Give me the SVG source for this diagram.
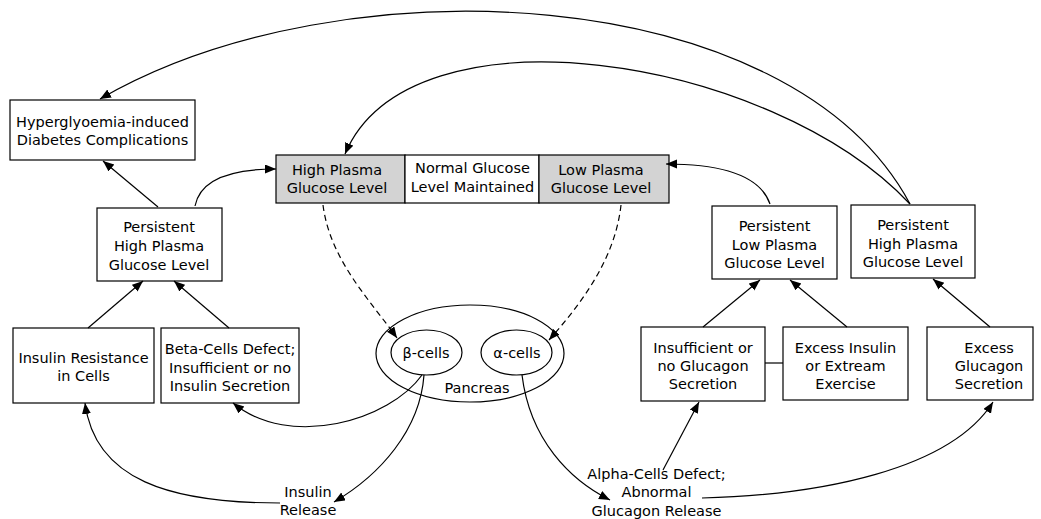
<svg xmlns="http://www.w3.org/2000/svg" width="1041" height="519" viewBox="0 0 1041 519">
<defs>
<marker id="ah" markerUnits="userSpaceOnUse" markerWidth="12" markerHeight="10" refX="11" refY="4.5" orient="auto">
<path d="M0,0 L11,4.5 L0,9 Z" fill="#000"/>
</marker>
<style>
rect{fill:#fff;stroke:#000;stroke-width:1.2}
rect.g{fill:#d3d3d3}
ellipse{fill:#fff;stroke:#000;stroke-width:1.2}
text{font-family:"DejaVu Sans",sans-serif;font-size:14.5px;fill:#000;text-anchor:middle}
.c path,.c line{fill:none;stroke:#000;stroke-width:1.2;marker-end:url(#ah)}
.c .d{stroke-dasharray:6,4}
.c .n{marker-end:none}
</style>
</defs>
<rect x="0" y="0" width="1041" height="519" style="fill:#fff;stroke:none"/>
<g id="complications"><rect x="10" y="100" width="185" height="60"/><text x="102.5" y="127">Hyperglyoemia-induced</text><text x="102.5" y="144.5">Diabetes Complications</text></g>
<g id="high-plasma"><rect class="g" x="276" y="155" width="129" height="48"/><text x="337" y="175">High Plasma</text><text x="337" y="193">Glucose Level</text></g>
<g id="normal"><rect x="405" y="155" width="134" height="48"/><text x="472.5" y="173">Normal Glucose</text><text x="472.5" y="191.5">Level Maintained</text></g>
<g id="low-plasma"><rect class="g" x="539" y="155" width="130" height="48"/><text x="601" y="175">Low Plasma</text><text x="601" y="193">Glucose Level</text></g>
<g id="persist-high-left"><rect x="97" y="208" width="125" height="73"/><text x="159" y="232">Persistent</text><text x="159" y="251">High Plasma</text><text x="159" y="270">Glucose Level</text></g>
<g id="persist-low"><rect x="712" y="206" width="125" height="73"/><text x="774.5" y="231">Persistent</text><text x="774.5" y="250">Low Plasma</text><text x="774.5" y="268">Glucose Level</text></g>
<g id="persist-high-right"><rect x="851" y="205" width="124" height="73"/><text x="913" y="230">Persistent</text><text x="913" y="249">High Plasma</text><text x="913" y="267">Glucose Level</text></g>
<g id="insulin-resistance"><rect x="13" y="328" width="141" height="75"/><text x="83.5" y="363">Insulin Resistance</text><text x="83.5" y="381">in Cells</text></g>
<g id="beta-defect"><rect x="161" y="328" width="138" height="75"/><text x="230" y="354">Beta-Cells Defect;</text><text x="230" y="372.5">Insufficient or no</text><text x="230" y="391">Insulin Secretion</text></g>
<g id="insufficient-glucagon"><rect x="641" y="327" width="124" height="74"/><text x="703" y="353">Insufficient or</text><text x="703" y="371">no Glucagon</text><text x="703" y="389">Secretion</text></g>
<g id="excess-insulin"><rect x="783" y="327" width="125" height="73"/><text x="845.5" y="353">Excess Insulin</text><text x="845.5" y="371">or Extream</text><text x="845.5" y="389">Exercise</text></g>
<g id="excess-glucagon"><rect x="927" y="327" width="106" height="73"/><text x="989" y="353">Excess</text><text x="989" y="371">Glucagon</text><text x="989" y="389">Secretion</text></g>
<g id="pancreas"><ellipse cx="470" cy="353.5" rx="94" ry="48.5"/><text x="477" y="393">Pancreas</text></g>
<g id="beta-cells"><ellipse cx="426.5" cy="352.5" rx="35.5" ry="22.5"/><text x="426" y="358">β-cells</text></g>
<g id="alpha-cells"><ellipse cx="516.5" cy="352.5" rx="35.5" ry="22.5"/><text x="517" y="358">α-cells</text></g>
<g id="insulin-release"><text x="308" y="497">Insulin</text><text x="308" y="515">Release</text></g>
<g id="alpha-defect"><text x="656.5" y="479">Alpha-Cells Defect;</text><text x="656.5" y="497">Abnormal</text><text x="656.5" y="515.5">Glucagon Release</text></g>
<g class="c" id="connectors">
<path d="M910,204 C790,-20 340,-40 100,99"/>
<path d="M910,204 C770,55 410,0 345,154"/>
<path d="M195,206 C200,180 230,169 276,169"/>
<path d="M770,204 C760,175 720,164 666,164"/>
<line x1="158" y1="207" x2="103" y2="161"/>
<line x1="88" y1="328" x2="143" y2="281"/>
<line x1="229" y1="328" x2="174" y2="281"/>
<line x1="703" y1="327" x2="760" y2="280"/>
<line x1="847" y1="327" x2="790" y2="280"/>
<line x1="990" y1="327" x2="933" y2="279"/>
<line class="n" x1="765" y1="363" x2="783" y2="363"/>
<path class="d" d="M323,205 C330,260 370,300 397,338"/>
<path class="d" d="M621,205 C615,260 580,305 549,340"/>
<path d="M422,375 C390,420 290,450 233,403"/>
<path d="M424,375 C420,430 380,475 334,502"/>
<path d="M280,503 C170,503 95,480 85,403"/>
<path d="M522,375 C530,440 570,480 610,500"/>
<line x1="663" y1="470" x2="699" y2="402"/>
<path d="M702,498 C820,495 950,470 993,402"/>
</g>
</svg>
